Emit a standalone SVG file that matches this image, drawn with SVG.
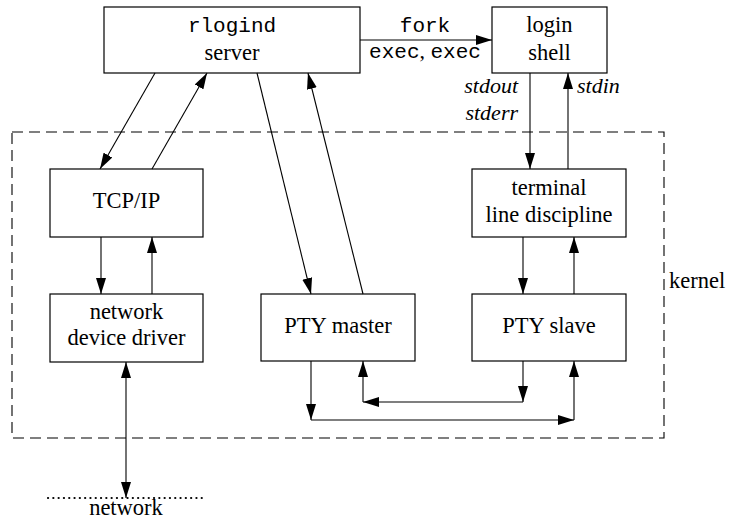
<svg xmlns="http://www.w3.org/2000/svg" width="730" height="519" viewBox="0 0 730 519">
<style>
.box{fill:#fff;stroke:#000;stroke-width:1.2}
.t{font-family:"Liberation Serif","DejaVu Serif","Times New Roman",serif;font-size:22.5px;fill:#000;text-anchor:middle}
.m{font-family:"Liberation Mono","DejaVu Sans Mono","Courier New",monospace;font-size:21px;fill:#000}
.i{font-family:"Liberation Serif","DejaVu Serif","Times New Roman",serif;font-size:22px;font-style:italic;fill:#000}
.c{stroke:#000;stroke-width:1.1;fill:none;marker-end:url(#ah)}
</style>
<defs>
<marker id="ah" markerUnits="userSpaceOnUse" markerWidth="17" markerHeight="12" viewBox="0 0 17 12" refX="16" refY="6" orient="auto-start-reverse">
<path d="M0,1 L16,6 L0,11 z" fill="#000"/>
</marker>
</defs>
<rect id="kernel-boundary" x="12" y="132" width="652" height="306" fill="none" stroke="#000" stroke-width="1.1" stroke-dasharray="11 6"/>
<text class="t" x="669" y="288" style="text-anchor:start">kernel</text>
<g id="rlogind">
<rect class="box" x="104" y="7" width="256" height="66"/>
<text class="m" x="232" y="32" text-anchor="middle">rlogind</text>
<text class="t" x="232" y="60">server</text>
</g>
<g id="login-shell">
<rect class="box" x="492" y="7" width="115" height="66"/>
<text class="t" x="549.5" y="32">login</text>
<text class="t" x="549.5" y="60">shell</text>
</g>
<g id="tcpip">
<rect class="box" x="50" y="169" width="153" height="68"/>
<text class="t" x="126.5" y="208">TCP/IP</text>
</g>
<g id="terminal">
<rect class="box" x="472" y="169" width="154" height="68"/>
<text class="t" x="549" y="195">terminal</text>
<text class="t" x="549" y="222">line discipline</text>
</g>
<g id="driver">
<rect class="box" x="50" y="294" width="153" height="68"/>
<text class="t" x="126.5" y="319">network</text>
<text class="t" x="126.5" y="345">device driver</text>
</g>
<g id="pty-master">
<rect class="box" x="261" y="294" width="154" height="67"/>
<text class="t" x="338" y="333">PTY master</text>
</g>
<g id="pty-slave">
<rect class="box" x="472" y="294" width="154" height="67"/>
<text class="t" x="549" y="333">PTY slave</text>
</g>
<g id="network">
<line x1="48" y1="498" x2="204" y2="498" stroke="#000" stroke-width="2.2" stroke-linecap="round" stroke-dasharray="0.1 5.2"/>
<text class="t" x="126" y="515">network</text>
</g>
<g id="connectors">
<line class="c" x1="155" y1="73" x2="100" y2="169"/>
<line class="c" x1="152" y1="169" x2="207" y2="73"/>
<line class="c" x1="257" y1="73" x2="311" y2="294"/>
<line class="c" x1="363" y1="294" x2="308" y2="73"/>
<line class="c" x1="360" y1="40" x2="492" y2="40"/>
<line class="c" x1="530" y1="73" x2="530" y2="169"/>
<line class="c" x1="568" y1="169" x2="568" y2="73"/>
<line class="c" x1="523" y1="237" x2="523" y2="294"/>
<line class="c" x1="574" y1="294" x2="574" y2="237"/>
<line class="c" x1="101" y1="237" x2="101" y2="294"/>
<line class="c" x1="152" y1="294" x2="152" y2="237"/>
<line class="c" x1="126" y1="362" x2="126" y2="498" style="marker-start:url(#ah)"/>
<line class="c" x1="311" y1="361" x2="311" y2="420"/>
<line class="c" x1="311" y1="420" x2="574" y2="420"/>
<line class="c" x1="574" y1="420" x2="574" y2="361"/>
<line class="c" x1="523" y1="361" x2="523" y2="402"/>
<line class="c" x1="523" y1="402" x2="363" y2="402"/>
<line class="c" x1="363" y1="402" x2="363" y2="361"/>
<text class="m" x="425" y="32" text-anchor="middle">fork</text>
<text x="425" y="58" text-anchor="middle"><tspan class="m">exec</tspan><tspan class="i" style="font-style:normal">, </tspan><tspan class="m">exec</tspan></text>
<text class="i" x="518" y="93" text-anchor="end">stdout</text>
<text class="i" x="518" y="120" text-anchor="end">stderr</text>
<text class="i" x="577" y="93">stdin</text>
</g>
</svg>
